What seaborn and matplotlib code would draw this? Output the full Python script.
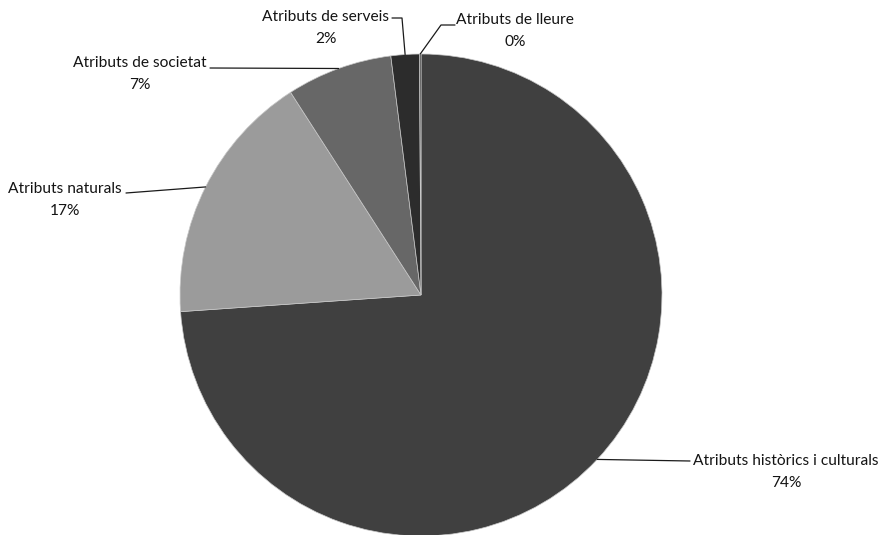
import numpy as np
import matplotlib
matplotlib.use("Agg")
import matplotlib.pyplot as plt
import seaborn as sns

sns.set_theme(style="white")
plt.rcParams['font.family'] = ['Lato', 'DejaVu Sans']

# data
categories = ["Atributs històrics i culturals", "Atributs naturals",
              "Atributs de societat", "Atributs de serveis", "Atributs de lleure"]
values = [73.9, 17.0, 7.1, 1.9, 0.1]
pct_labels = ["74%", "17%", "7%", "2%", "0%"]
colors = ["#404040", "#9b9b9b", "#676767", "#2c2c2c", "#3a3a3a"]

W, H = 889, 535
fig = plt.figure(figsize=(W / 100, H / 100), dpi=100)
ax = fig.add_axes([0, 0, 1, 1])

cx, cy, r = 421, H - 295, 241
wedges, _ = ax.pie(values, colors=colors, startangle=90, counterclock=False,
                   center=(cx, cy), radius=r, frame=True,
                   wedgeprops=dict(edgecolor="#c8c8c8", linewidth=0.5))
ax.set_xlim(0, W)
ax.set_ylim(0, H)
ax.set_aspect("equal")
ax.axis("off")

# label text centres (pixel coords from top) and leader line bends
label_pos = [(786, 461), (65, 189), (140, 63), (326, 17), (515, 20)]
leader_pts = [
    [(690, 461)],
    [(126, 193)],
    [(210, 68)],
    [(402, 18), (392, 18)],
    [(441, 25), (455, 25)],
]

for w, cat, pct, (lx, ly), pts in zip(wedges, categories, pct_labels, label_pos, leader_pts):
    mid = np.deg2rad((w.theta1 + w.theta2) / 2)
    sx, sy = cx + r * np.cos(mid), cy + r * np.sin(mid)
    xs = [sx] + [p[0] for p in pts]
    ys = [sy] + [H - p[1] for p in pts]
    ax.plot(xs, ys, color="#1a1a1a", lw=0.9)
    ax.text(lx, H - ly, cat, ha="center", va="center", fontsize=11.2, color="#141414")
    ax.text(lx, H - ly - 22, pct, ha="center", va="center", fontsize=11.2, color="#141414")

fig.savefig("out.png", dpi=100, facecolor="white")
